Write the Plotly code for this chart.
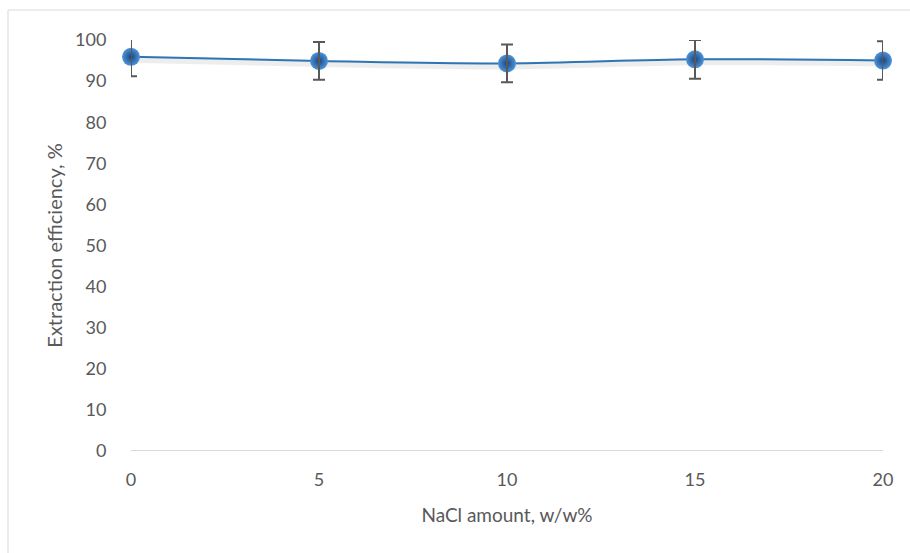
import plotly.graph_objects as go

nacl = [0, 5, 10, 15, 20]
efficiency = [95.9, 94.9, 94.3, 95.3, 95.0]
err = [4.7, 4.6, 4.6, 4.7, 4.7]
x_ticks = [0, 5, 10, 15, 20]
y_ticks = [0, 10, 20, 30, 40, 50, 60, 70, 80, 90, 100]

font_family = "Lato, Open Sans, sans-serif"
text_color = "#595959"

fig = go.Figure()

# soft shadow under the line
fig.add_trace(go.Scatter(
    x=nacl, y=[v - 0.6 for v in efficiency], mode="lines",
    line=dict(color="rgba(0,0,0,0.07)", width=7, shape="spline"),
    cliponaxis=False, hoverinfo="skip", showlegend=False))

fig.add_trace(go.Scatter(
    x=nacl, y=efficiency, mode="lines+markers",
    line=dict(color="#2E75B6", width=2, shape="spline"),
    marker=dict(size=18, color="#4F94DA",
                gradient=dict(type="radial", color="#17467F"),
                line=dict(width=0)),
    cliponaxis=False, showlegend=False))

# error bars drawn on top of the markers
fig.add_trace(go.Scatter(
    x=nacl, y=efficiency, mode="markers",
    marker=dict(size=1, color="rgba(0,0,0,0)"),
    error_y=dict(type="data", array=err, visible=True,
                 color="#595959", thickness=2, width=6),
    cliponaxis=False, hoverinfo="skip", showlegend=False))

fig.update_layout(
    width=910, height=553,
    margin=dict(l=131, r=27, t=40, b=102),
    paper_bgcolor="white", plot_bgcolor="white",
    font=dict(family=font_family, size=18, color=text_color),
    xaxis=dict(range=[0, 20], tickvals=x_ticks, showgrid=False,
               zeroline=False, showline=False,
               ticks="outside", ticklen=12, tickcolor="rgba(0,0,0,0)",
               tickfont=dict(size=18),
               title=dict(text="NaCl amount, w/w%", standoff=20,
                          font=dict(size=19, color=text_color))),
    yaxis=dict(range=[0, 100], tickvals=y_ticks, showgrid=False,
               zeroline=False, showline=False,
               ticks="outside", ticklen=20, tickcolor="rgba(0,0,0,0)",
               tickfont=dict(size=18),
               title=dict(text="Extraction efficiency, %", standoff=7,
                          font=dict(size=20, color=text_color))),
    shapes=[
        dict(type="line", xref="x", yref="y", x0=0, x1=20, y0=0, y1=0,
             line=dict(color="#D9D9D9", width=2), layer="below"),
        dict(type="rect", xref="paper", yref="paper",
             x0=-123/752, x1=1.2, y0=-1, y1=1 + 30/411,
             line=dict(color="#D9D9D9", width=1), layer="below"),
    ],
)

fig.write_html("out.html")
